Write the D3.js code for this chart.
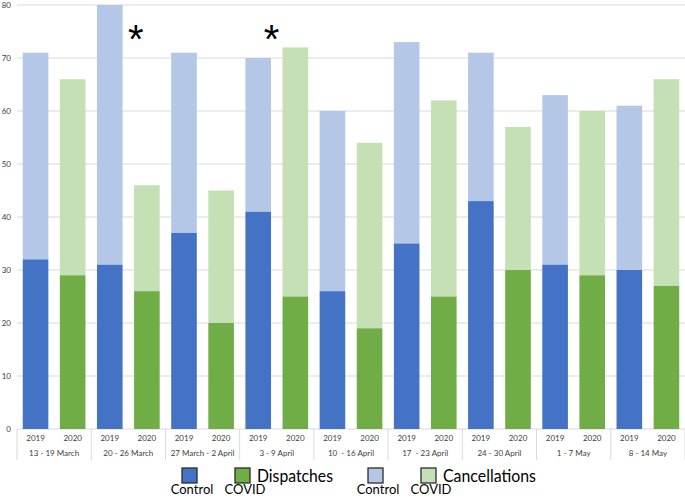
<!DOCTYPE html>
<html>
<head>
<meta charset="utf-8">
<script src="https://cdn.jsdelivr.net/npm/d3@7"></script>
<style>
  body { margin: 0; background: #fff; }
  svg { display: block; font-family: Lato, "Open Sans", sans-serif; }
</style>
</head>
<body>
<svg id="chart" width="685" height="498"></svg>
<script>
const weeks = ["13 - 19 March", "20 - 26 March", "27 March - 2 April", "3 - 9 April", "10  - 16 April", "17  - 23 April", "24 - 30 April", "1 - 7 May", "8 - 14 May"];
const years = ["2019", "2020"];
// Control (2019) values
const controlDispatches    = [32, 31, 37, 41, 26, 35, 43, 31, 30];
const controlCancellations = [39, 49, 34, 29, 34, 38, 28, 32, 31];
// COVID (2020) values
const covidDispatches      = [29, 26, 20, 25, 19, 25, 30, 29, 27];
const covidCancellations   = [37, 20, 25, 47, 35, 37, 27, 31, 39];
const yTicks = [0, 10, 20, 30, 40, 50, 60, 70, 80];
const asterisks = [{week: "20 - 26 March", pos: 0.6}, {week: "3 - 9 April", pos: 0.43}];

const colors = {
  ctrlDisp: "#4472C4", covDisp: "#70AD47",
  ctrlCanc: "#B4C7E7", covCanc: "#C5E0B4"
};

const svg = d3.select("#chart");
const m = {left: 17, right: 0, top: 5, bottom: 69};
const W = 685, H = 498;
const x0 = d3.scaleBand().domain(weeks).range([m.left, W - m.right]).paddingInner(0).paddingOuter(0);
const x1 = d3.scaleBand().domain(years).range([0, x0.bandwidth()]).paddingInner(0.31).paddingOuter(0.155);
const y = d3.scaleLinear().domain([0, 80]).range([H - m.bottom, m.top]);

// gridlines
svg.append("g").selectAll("line").data(yTicks).join("line")
  .attr("x1", m.left).attr("x2", W - m.right)
  .attr("y1", d => y(d)).attr("y2", d => y(d))
  .attr("stroke", "#d9d9d9").attr("stroke-width", 1);

// y labels
svg.append("g").selectAll("text").data(yTicks).join("text")
  .attr("x", 11).attr("y", d => y(d) + 3)
  .attr("text-anchor", "end").attr("font-size", 8).attr("fill", "#404040")
  .text(d => d);

// data rows
const rows = [];
weeks.forEach((w, i) => {
  rows.push({week: w, year: "2019", disp: controlDispatches[i], canc: controlCancellations[i], cd: colors.ctrlDisp, cc: colors.ctrlCanc});
  rows.push({week: w, year: "2020", disp: covidDispatches[i], canc: covidCancellations[i], cd: colors.covDisp, cc: colors.covCanc});
});

const bars = svg.append("g");
bars.selectAll("rect.canc").data(rows).join("rect").attr("class", "canc")
  .attr("x", d => x0(d.week) + x1(d.year)).attr("width", x1.bandwidth())
  .attr("y", d => y(d.disp + d.canc)).attr("height", d => y(d.disp) - y(d.disp + d.canc))
  .attr("fill", d => d.cc);
bars.selectAll("rect.disp").data(rows).join("rect").attr("class", "disp")
  .attr("x", d => x0(d.week) + x1(d.year)).attr("width", x1.bandwidth())
  .attr("y", d => y(d.disp)).attr("height", d => y(0) - y(d.disp))
  .attr("fill", d => d.cd);

// x axis: separators
const seps = weeks.map(w => x0(w)).concat([x0(weeks[weeks.length - 1]) + x0.bandwidth()]);
svg.append("g").selectAll("line").data(seps).join("line")
  .attr("x1", d => d).attr("x2", d => d)
  .attr("y1", y(0)).attr("y2", y(0) + 31)
  .attr("stroke", "#d9d9d9").attr("stroke-width", 1);

// year labels
svg.append("g").selectAll("text").data(rows).join("text")
  .attr("x", d => x0(d.week) + x1(d.year) + x1.bandwidth() / 2)
  .attr("y", y(0) + 12)
  .attr("text-anchor", "middle").attr("font-size", 8).attr("fill", "#404040")
  .text(d => d.year);

// week labels
svg.append("g").selectAll("text").data(weeks).join("text")
  .attr("x", d => x0(d) + x0.bandwidth() / 2)
  .attr("y", y(0) + 27)
  .attr("text-anchor", "middle").attr("font-size", 8).attr("fill", "#404040")
  .attr("xml:space", "preserve")
  .text(d => d);

// asterisks
svg.append("g").selectAll("text").data(asterisks).join("text")
  .attr("x", d => x0(d.week) + x0.bandwidth() * d.pos)
  .attr("y", 53)
  .attr("text-anchor", "middle").attr("font-size", 40)
  .attr("font-family", "Liberation Sans, Arial, sans-serif").attr("fill", "#000")
  .text("*");

// legend
const leg = svg.append("g");
const legItems = [
  {x: 182, color: colors.ctrlDisp, label: "Control", lx: 192},
  {x: 235, color: colors.covDisp, label: "COVID", lx: 245},
  {x: 368, color: colors.ctrlCanc, label: "Control", lx: 378},
  {x: 421, color: colors.covCanc, label: "COVID", lx: 431}
];
leg.selectAll("rect").data(legItems).join("rect")
  .attr("x", d => d.x).attr("y", 468).attr("width", 15).attr("height", 15)
  .attr("fill", d => d.color).attr("stroke", "#2b2b2b").attr("stroke-width", 1.3);
leg.selectAll("text.sub").data(legItems).join("text").attr("class", "sub")
  .attr("x", d => d.lx).attr("y", 494)
  .attr("text-anchor", "middle").attr("font-size", 13).attr("fill", "#000")
  .text(d => d.label);
leg.append("text").attr("x", 257).attr("y", 482).attr("font-size", 17)
  .attr("textLength", 76).attr("lengthAdjust", "spacingAndGlyphs").attr("fill", "#000").text("Dispatches");
leg.append("text").attr("x", 443).attr("y", 482).attr("font-size", 17)
  .attr("textLength", 93).attr("lengthAdjust", "spacingAndGlyphs").attr("fill", "#000").text("Cancellations");
</script>
</body>
</html>
